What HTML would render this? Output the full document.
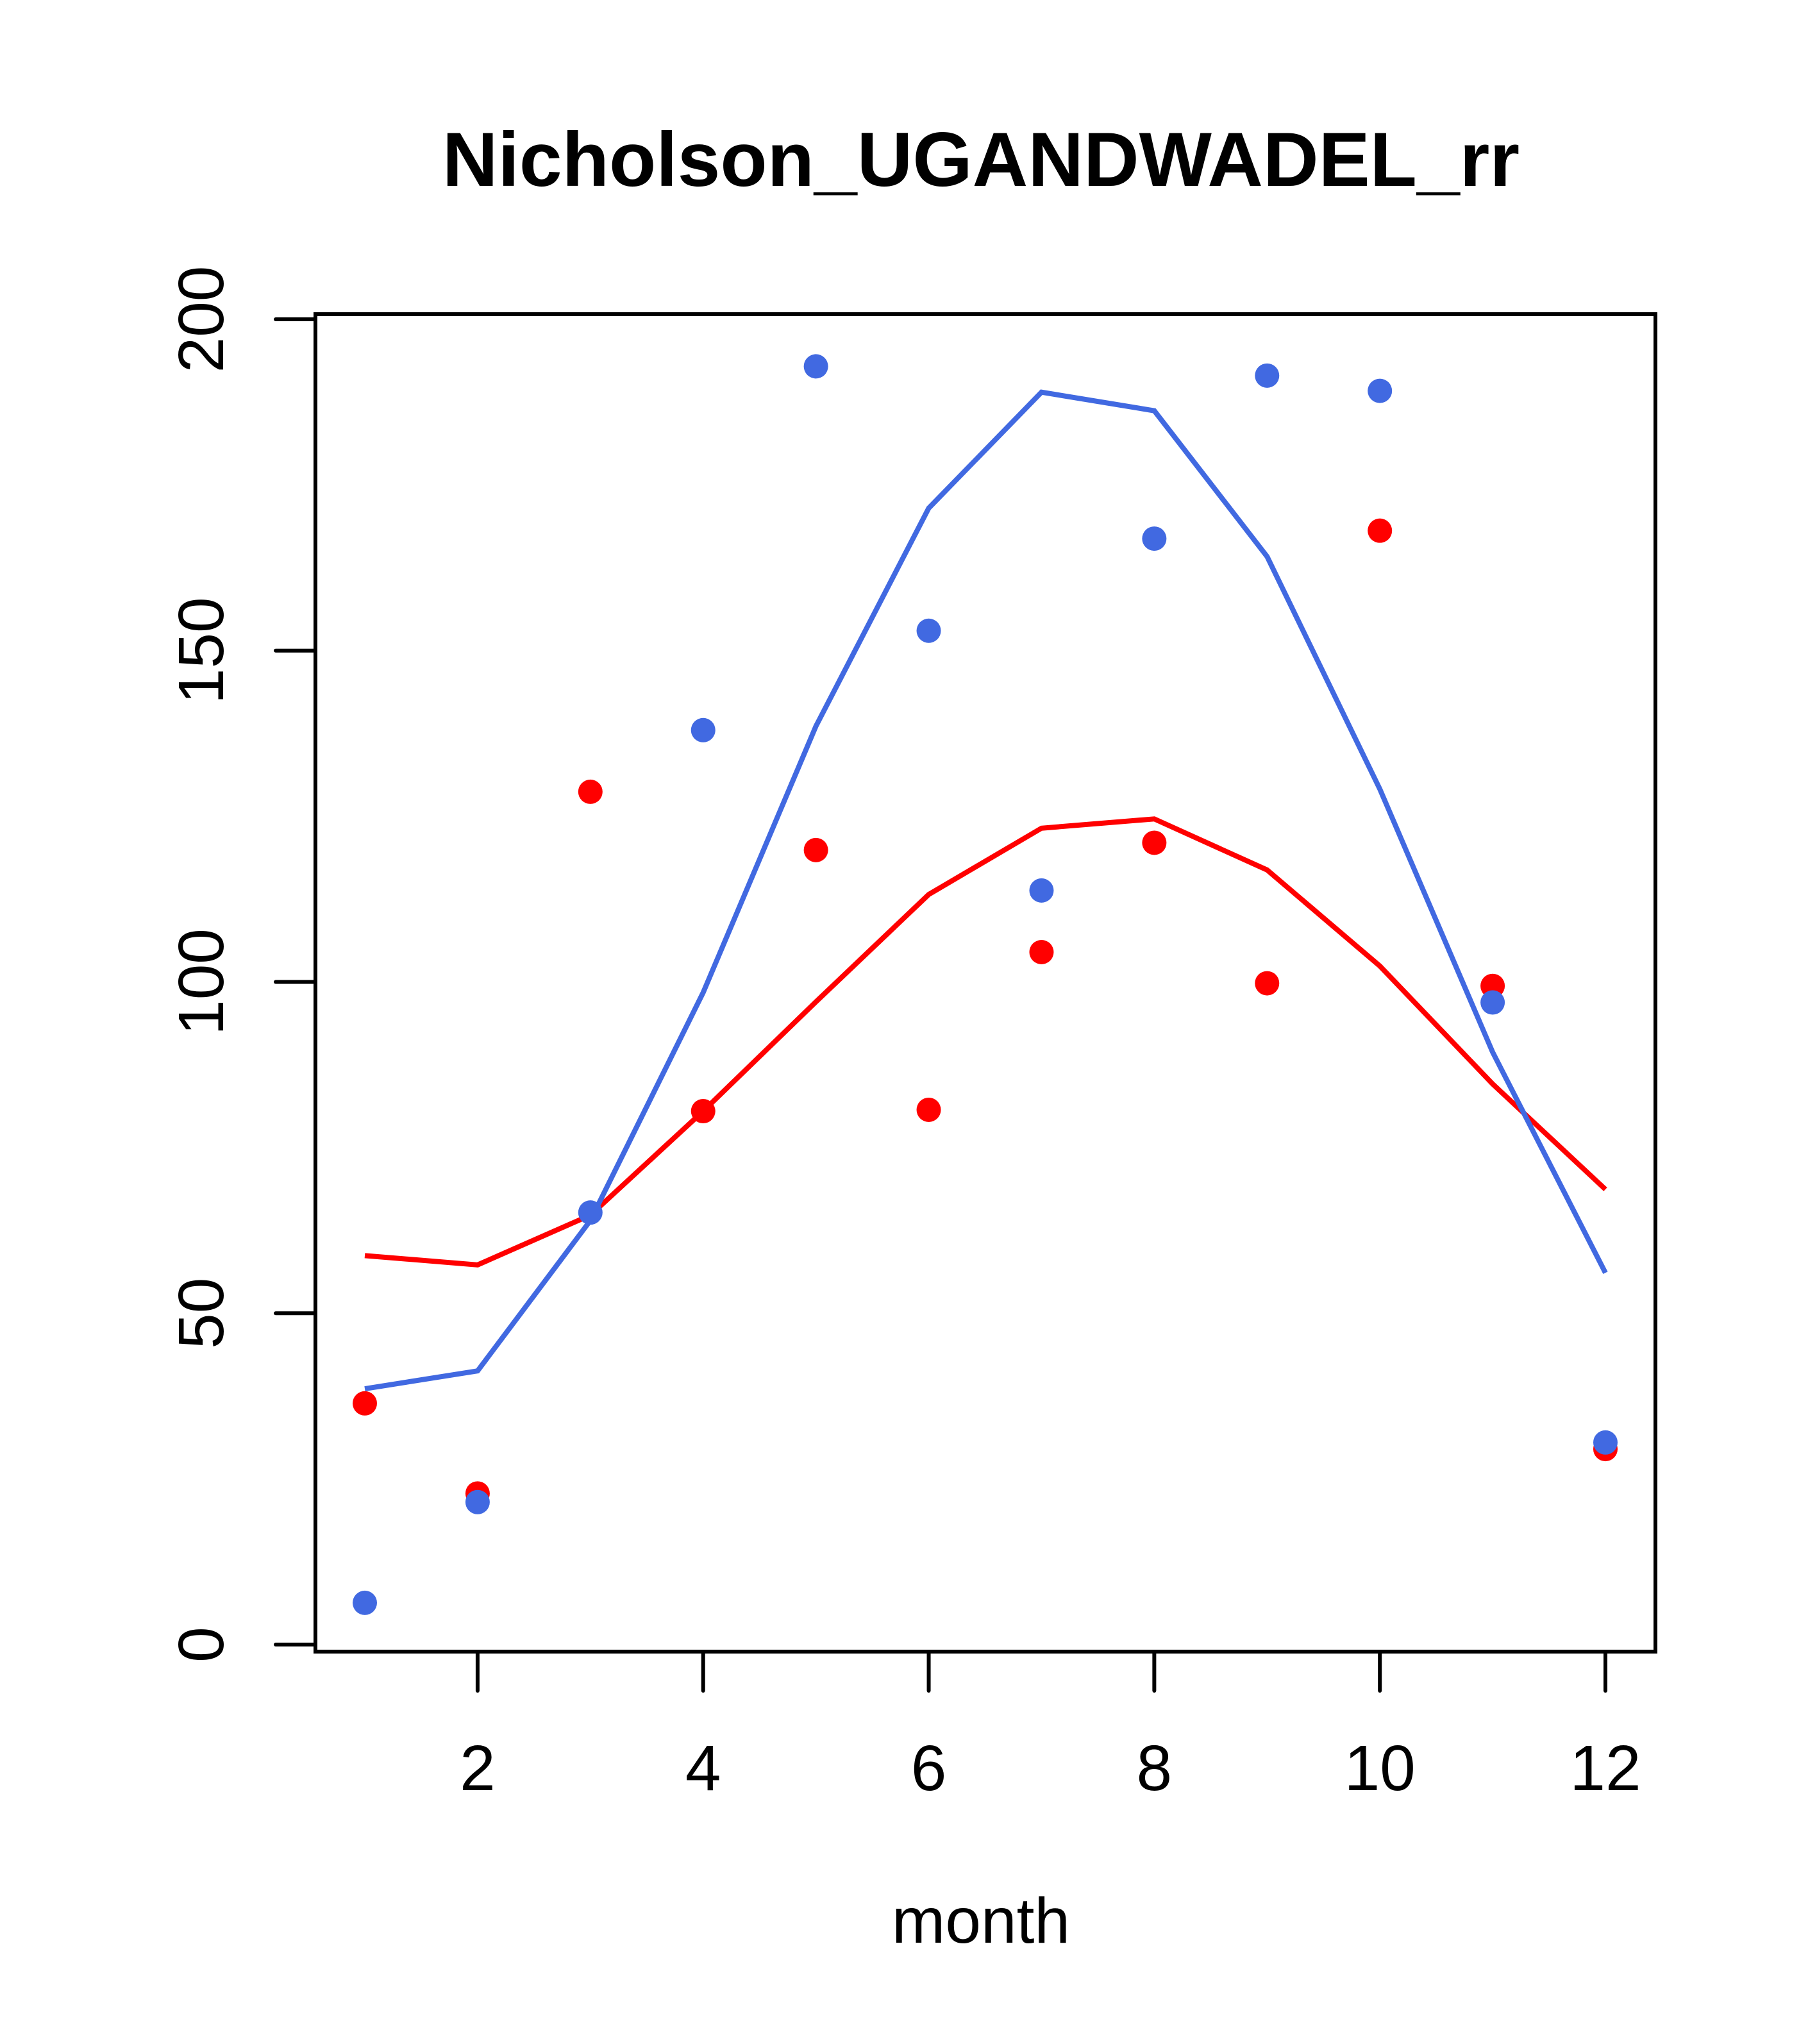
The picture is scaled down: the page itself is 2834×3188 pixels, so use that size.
<!DOCTYPE html>
<html><head><meta charset="utf-8"><style>html,body{margin:0;padding:0;background:#fff}svg{display:block}</style></head>
<body>
<svg id="chart" width="2834" height="3188" viewBox="0 0 2834 3188" xmlns="http://www.w3.org/2000/svg" font-family="Liberation Sans, sans-serif">
<rect width="2834" height="3188" fill="#fff"/>
<text x="1530" y="290" font-size="120" font-weight="bold" text-anchor="middle">Nicholson_UGANDWADEL_rr</text>
<rect x="492" y="490" width="2090" height="2086" fill="none" stroke="#000" stroke-width="6"/>
<text x="1530" y="3030" font-size="100" text-anchor="middle">month</text>
<g id="axes"></g>
<g id="marks"></g>
</svg>
<script>
const months = [1,2,3,4,5,6,7,8,9,10,11,12];
const redPoints = [36.4,22.8,128.7,80.5,119.9,80.7,104.5,121,99.8,168.1,99.4,29.5];
const bluePoints = [6.3,21.5,65.2,138,192.9,153,113.8,166.9,191.5,189.2,96.9,30.5];
const redLine = [58.7,57.3,64.8,80.5,97,113.2,123.2,124.6,116.9,102.4,84.6,68.7];
const blueLine = [38.6,41.3,64,98.4,138.6,171.5,189,186.2,164.2,129.1,89.4,56.1];
const xTicks = [2,4,6,8,10,12];
const yTicks = [0,50,100,150,200];

const NS = "http://www.w3.org/2000/svg";
function xs(m){ return 569 + (m-1)*(2504-569)/11; }
function ys(v){ return 2565 - v*(2565-498)/200; }
function mk(tag, attrs, parent){ const e=document.createElementNS(NS,tag); for(const k in attrs) e.setAttribute(k,attrs[k]); parent.appendChild(e); return e; }

const axes=document.getElementById('axes');
const marks=document.getElementById('marks');
for(const t of xTicks){
  const l=mk('line',{x1:xs(t),x2:xs(t),y1:2576,y2:2637,stroke:'#000','stroke-width':6,'stroke-linecap':'round'},axes);
  
  
  const tx=mk('text',{x:xs(t),y:2792,'font-size':100,'text-anchor':'middle'},axes);
  tx.textContent=t;
  
  
}
for(const t of yTicks){
  const l=mk('line',{x1:430,x2:492,y1:ys(t),y2:ys(t),stroke:'#000','stroke-width':6,'stroke-linecap':'round'},axes);
  
  
  const tx=mk('text',{x:0,y:0,'font-size':100,'text-anchor':'middle',transform:`translate(348,${ys(t)}) rotate(-90)`},axes);
  tx.textContent=t;
  
  
}
function line(vals,color,name){
  const p=mk('polyline',{points:vals.map((v,i)=>xs(months[i])+','+ys(v)).join(' '),fill:'none',stroke:color,'stroke-width':8},marks);
  
  
}
function pts(vals,color,name){
  vals.forEach((v,i)=>{
    const c=mk('circle',{cx:xs(months[i]),cy:ys(v),r:19,fill:color},marks);
    
    
  });
}
line(redLine,'#ff0000','red-line');
line(blueLine,'#4169e1','blue-line');
pts(redPoints,'#ff0000','red-point');
pts(bluePoints,'#4169e1','blue-point');
</script>
</body></html>
